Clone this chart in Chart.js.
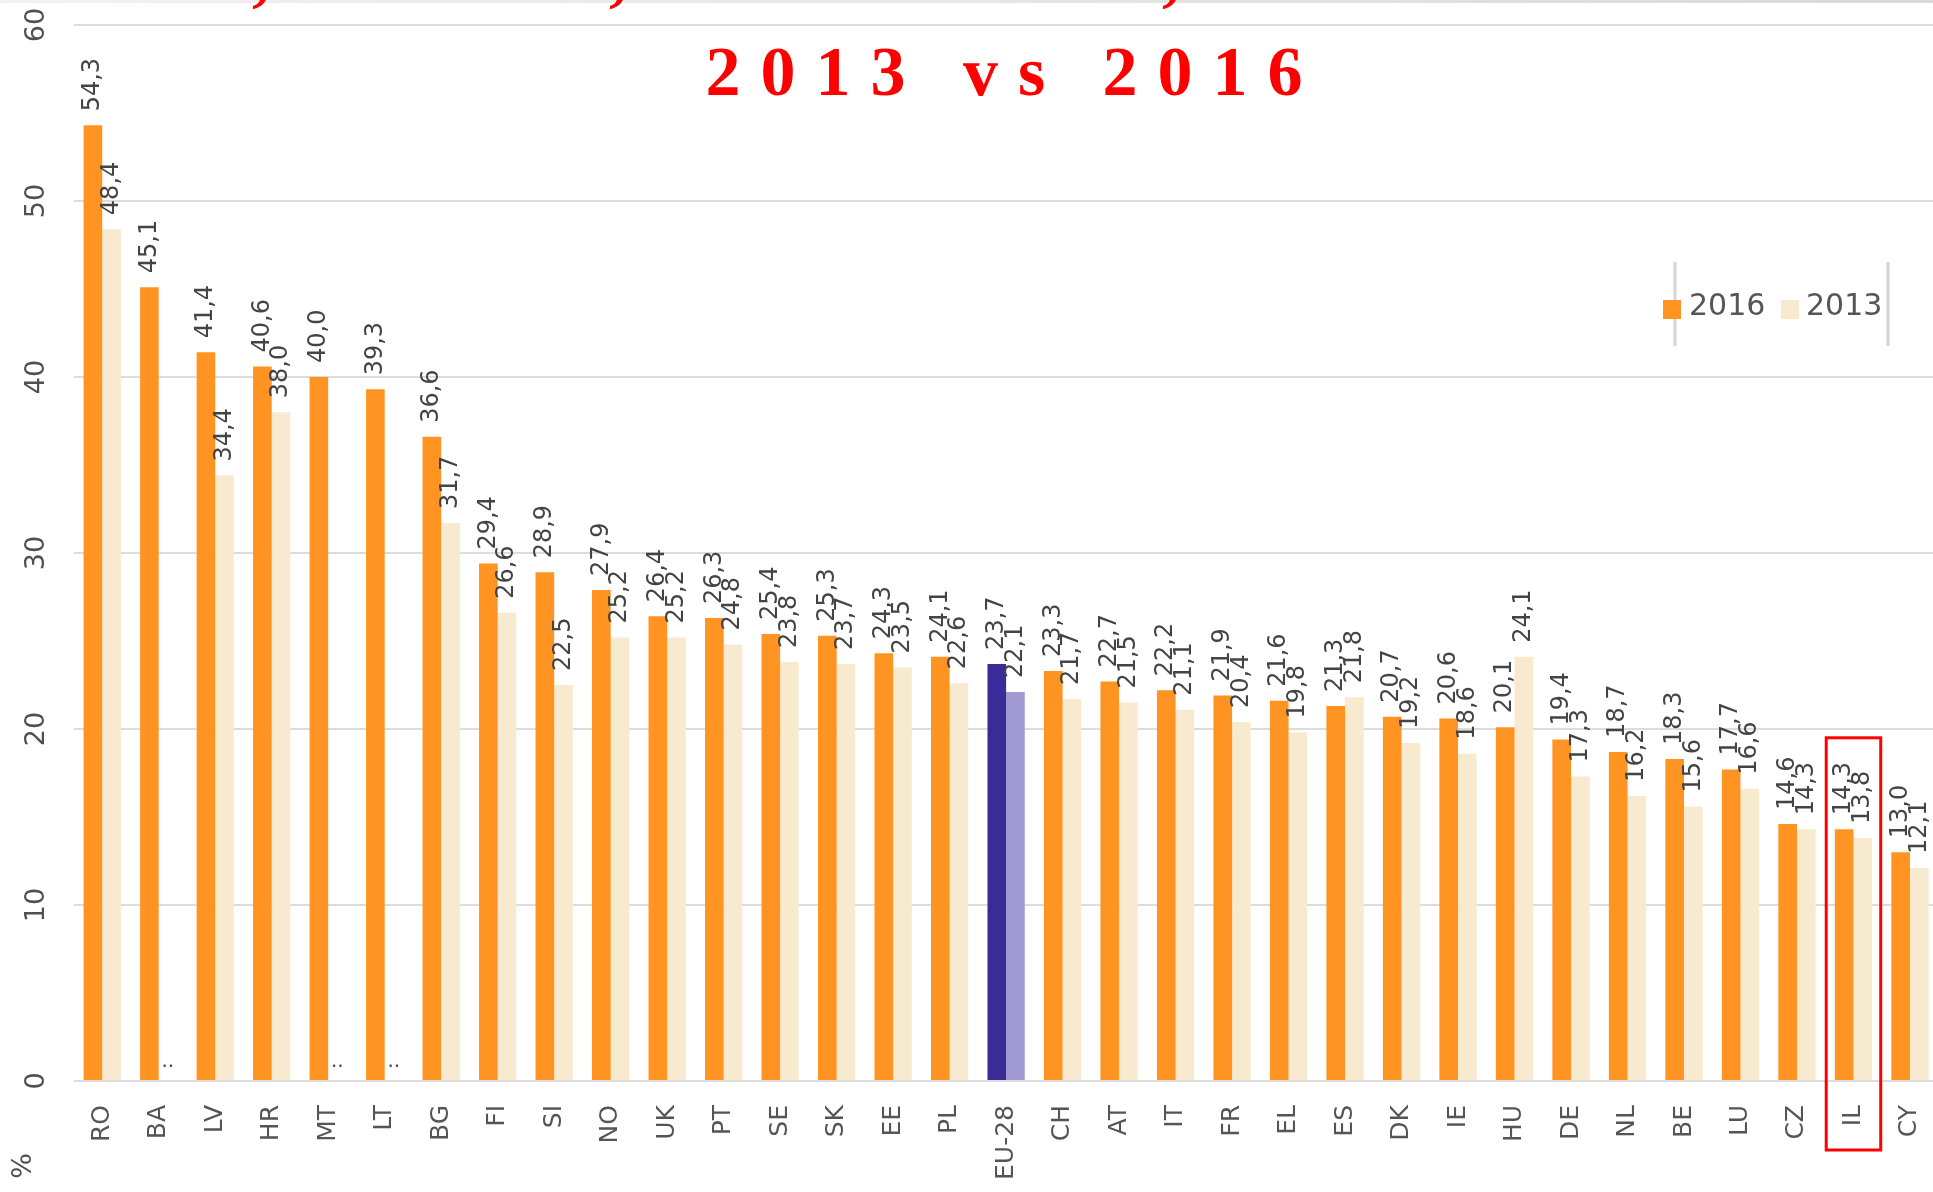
<!DOCTYPE html>
<html>
<head>
<meta charset="utf-8">
<script src="https://cdn.jsdelivr.net/npm/chart.js@4"></script>
<style>
  html, body { margin: 0; padding: 0; background: #fff; overflow: hidden; }
  #chart { display: block; }
</style>
</head>
<body>
<canvas id="chart" width="1964" height="1192"></canvas>
<script>
// countries, sorted by 2016 value
var countries = ['RO', 'BA', 'LV', 'HR', 'MT', 'LT', 'BG', 'FI', 'SI', 'NO', 'UK', 'PT', 'SE', 'SK', 'EE', 'PL', 'EU-28',
    'CH', 'AT', 'IT', 'FR', 'EL', 'ES', 'DK', 'IE', 'HU', 'DE', 'NL', 'BE', 'LU', 'CZ', 'IL', 'CY'];
var values2016 = [54.3, 45.1, 41.4, 40.6, 40.0, 39.3, 36.6, 29.4, 28.9, 27.9, 26.4, 26.3, 25.4, 25.3, 24.3, 24.1, 23.7,
    23.3, 22.7, 22.2, 21.9, 21.6, 21.3, 20.7, 20.6, 20.1, 19.4, 18.7, 18.3, 17.7, 14.6, 14.3, 13.0];
// null = not available ("..")
var values2013 = [48.4, null, 34.4, 38.0, null, null, 31.7, 26.6, 22.5, 25.2, 25.2, 24.8, 23.8, 23.7, 23.5, 22.6, 22.1,
    21.7, 21.5, 21.1, 20.4, 19.8, 21.8, 19.2, 18.6, 24.1, 17.3, 16.2, 15.6, 16.6, 14.3, 13.8, 12.1];
var yTicks = [0, 10, 20, 30, 40, 50, 60];
var seriesNames = ['2016', '2013'];
var highlight = 'IL';

var orange = '#ff9422';
var cream = '#f8eacf';
var navy = '#392c99';
var lavender = '#a199d3';

function colorsFor(base, eu) {
    return countries.map(function (c) { return c === 'EU-28' ? eu : base; });
}

function fmt(v) {
    return v.toFixed(1).replace('.', ',');
}

var extras = {
    id: 'extras',
    afterDraw: function (chart) {
        var ctx = chart.ctx;
        var y = chart.scales.y;
        var x = chart.scales.x;

        // cut off header line above the picture: grey band and comma tails
        ctx.save();
        var band = ctx.createLinearGradient(0, 0, chart.width, 0);
        band.addColorStop(0, '#f2f2f2');
        band.addColorStop(1, '#d9d9d9');
        ctx.fillStyle = band;
        ctx.fillRect(0, 0, chart.width, 3);
        ctx.fillStyle = '#ff0000';
        ctx.font = 'bold 70px "Liberation Serif"';
        ctx.textBaseline = 'alphabetic';
        [252, 609, 1162].forEach(function (px) {
            ctx.fillText(',', px, -2);
        });
        ctx.restore();

        // y tick labels, rotated
        ctx.save();
        ctx.fillStyle = '#505050';
        ctx.font = '27px "DejaVu Sans"';
        ctx.textAlign = 'center';
        ctx.textBaseline = 'middle';
        yTicks.forEach(function (t) {
            ctx.save();
            ctx.translate(37, y.getPixelForValue(t));
            ctx.rotate(-Math.PI / 2);
            ctx.fillText(String(t), 0, 0);
            ctx.restore();
        });
        // unit
        ctx.save();
        ctx.translate(24, 1166);
        ctx.rotate(-Math.PI / 2);
        ctx.fillText('%', 0, 0);
        ctx.restore();
        ctx.restore();

        // value labels
        ctx.save();
        ctx.fillStyle = '#444';
        ctx.font = '24px "DejaVu Sans"';
        chart.data.datasets.forEach(function (ds, di) {
            var meta = chart.getDatasetMeta(di);
            meta.data.forEach(function (bar, i) {
                var v = ds.data[i];
                if (v === null) {
                    ctx.save();
                    ctx.textAlign = 'center';
                    ctx.textBaseline = 'alphabetic';
                    ctx.font = '20px "DejaVu Sans"';
                    var cx = x.getPixelForValue(i) + x.width / countries.length * 0.16;
                    ctx.fillText('..', cx, y.getPixelForValue(0) - 14);
                    ctx.restore();
                    return;
                }
                ctx.save();
                ctx.translate(bar.x, bar.y - 14);
                ctx.rotate(-Math.PI / 2);
                ctx.textAlign = 'left';
                ctx.textBaseline = 'middle';
                ctx.fillText(fmt(v), 0, 0);
                ctx.restore();
            });
        });
        ctx.restore();

        // legend
        ctx.save();
        ctx.strokeStyle = '#d4d4d4';
        ctx.lineWidth = 3;
        ctx.beginPath();
        ctx.moveTo(1675, 262); ctx.lineTo(1675, 346);
        ctx.moveTo(1888, 262); ctx.lineTo(1888, 346);
        ctx.stroke();
        ctx.font = '30px "DejaVu Sans"';
        ctx.textBaseline = 'middle';
        ctx.fillStyle = orange;
        ctx.fillRect(1663, 300, 18, 19);
        ctx.fillStyle = '#555';
        ctx.fillText(seriesNames[0], 1689, 307);
        ctx.fillStyle = cream;
        ctx.fillRect(1781, 300, 18, 19);
        ctx.fillStyle = '#555';
        ctx.fillText(seriesNames[1], 1806, 307);
        ctx.restore();

        // title
        ctx.save();
        ctx.fillStyle = '#ff0000';
        ctx.font = 'bold 70px "Liberation Serif"';
        ctx.textBaseline = 'alphabetic';
        var title = '2013 vs 2016';
        var spacing = 20;
        var total = 0;
        for (var k = 0; k < title.length; k++) {
            total += ctx.measureText(title[k]).width + spacing;
        }
        total -= spacing;
        var tx = 1004 - total / 2;
        for (var k2 = 0; k2 < title.length; k2++) {
            ctx.fillText(title[k2], tx, 95);
            tx += ctx.measureText(title[k2]).width + spacing;
        }
        ctx.restore();

        // box round the highlighted country
        var hi = countries.indexOf(highlight);
        var cw = x.width / countries.length;
        var cxh = x.getPixelForValue(hi);
        ctx.save();
        ctx.strokeStyle = '#ff0000';
        ctx.lineWidth = 3;
        ctx.strokeRect(cxh - cw / 2 + 1, y.getPixelForValue(19.5), cw - 2, y.getPixelForValue(0) + 69 - y.getPixelForValue(19.5));
        ctx.restore();
    }
};

new Chart(document.getElementById('chart'), {
    type: 'bar',
    data: {
        labels: countries,
        datasets: [{
            label: seriesNames[0],
            data: values2016,
            backgroundColor: colorsFor(orange, navy),
            borderWidth: 0
        }, {
            label: seriesNames[1],
            data: values2013,
            backgroundColor: colorsFor(cream, lavender),
            borderWidth: 0
        }]
    },
    options: {
        responsive: false,
        animation: false,
        layout: {
            padding: { left: 74, right: 2, top: 25, bottom: 0 }
        },
        datasets: {
            bar: { categoryPercentage: 0.66, barPercentage: 1.0 }
        },
        plugins: {
            legend: { display: false },
            title: { display: false },
            tooltip: { enabled: false }
        },
        scales: {
            x: {
                grid: { display: false, drawTicks: false },
                border: { display: false },
                afterFit: function (scale) {
                    scale.height = 111;
                },
                ticks: {
                    minRotation: 90,
                    maxRotation: 90,
                    padding: 24,
                    color: '#555',
                    font: { family: 'DejaVu Sans', size: 25 }
                }
            },
            y: {
                min: 0,
                max: 60,
                afterBuildTicks: function (axis) {
                    axis.ticks = yTicks.map(function (v) { return { value: v }; });
                },
                grid: { color: '#dcdcdc', lineWidth: 2, drawTicks: false },
                border: { display: false },
                ticks: { display: false }
            }
        }
    },
    plugins: [extras]
});
</script>
</body>
</html>
